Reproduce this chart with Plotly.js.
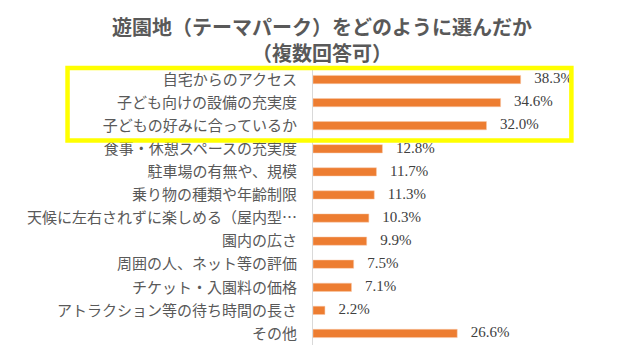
<!DOCTYPE html>
<html>
<head>
<meta charset="utf-8">
<script src="https://cdn.plot.ly/plotly-3.0.1.min.js"></script>
<style>html,body{margin:0;padding:0;background:#fff;}#chart{width:640px;height:361px;}</style>
</head>
<body>
<div id="chart"></div>
<script>
const categories = [
  "自宅からのアクセス",
  "子ども向けの設備の充実度",
  "子どもの好みに合っているか",
  "食事・休憩スペースの充実度",
  "駐車場の有無や、規模",
  "乗り物の種類や年齢制限",
  "天候に左右されずに楽しめる（屋内型…",
  "園内の広さ",
  "周囲の人、ネット等の評価",
  "チケット・入園料の価格",
  "アトラクション等の待ち時間の長さ",
  "その他"
];
const values = [38.3, 34.6, 32.0, 12.8, 11.7, 11.3, 10.3, 9.9, 7.5, 7.1, 2.2, 26.6];
const valueLabels = values.map(v => v.toFixed(1) + "%");
const titleLine1 = "遊園地（テーマパーク）をどのように選んだか";
const titleLine2 = "（複数回答可）";

const bars = {
  type: "bar",
  orientation: "h",
  x: values,
  y: categories,
  width: 0.36,
  marker: {color: "#ED7D31", line: {color: "#F8CBAD", width: 0.5}},
  hoverinfo: "skip"
};

const labels = {
  type: "scatter",
  mode: "markers+text",
  x: values,
  y: categories,
  text: valueLabels,
  textposition: "middle right",
  marker: {size: 20, color: "rgba(0,0,0,0)"},
  cliponaxis: false,
  textfont: {family: "Liberation Serif, serif", size: 15, color: "#404040"},
  hoverinfo: "skip"
};

const n = categories.length;
const titleFont = {family: "Noto Sans CJK JP, sans-serif", size: 20, color: "#595959", weight: "bold"};
const layout = {
  width: 640, height: 361,
  margin: {l: 313, r: 83, t: 68, b: 16, pad: 0},
  paper_bgcolor: "#ffffff",
  plot_bgcolor: "#ffffff",
  showlegend: false,
  xaxis: {
    range: [0, 45],
    visible: false,
    fixedrange: true
  },
  yaxis: {
    type: "category",
    categoryorder: "array",
    categoryarray: categories,
    range: [n - 0.5, -0.5],
    showline: true, linecolor: "#d9d9d9", linewidth: 1,
    showgrid: false, zeroline: false,
    ticks: "",
    ticklabelstandoff: 12,
    tickfont: {family: "Noto Sans CJK JP, sans-serif", size: 15, color: "#595959"},
    fixedrange: true
  },
  annotations: [
    {text: titleLine1 + "<br>" + titleLine2, xref: "paper", yref: "paper", x: 0.035, y: 1.104,
     xanchor: "center", yanchor: "middle", align: "center", showarrow: false, font: titleFont}
  ],
  shapes: [{
    type: "rect", xref: "paper", yref: "paper",
    x0: -1.006, x1: 1.059, y0: 0.738, y1: 1.0,
    line: {color: "#FFFF00", width: 4.5},
    fillcolor: "rgba(0,0,0,0)"
  }]
};

Plotly.newPlot("chart", [bars, labels], layout, {displayModeBar: false, staticPlot: true});
</script>
</body>
</html>
